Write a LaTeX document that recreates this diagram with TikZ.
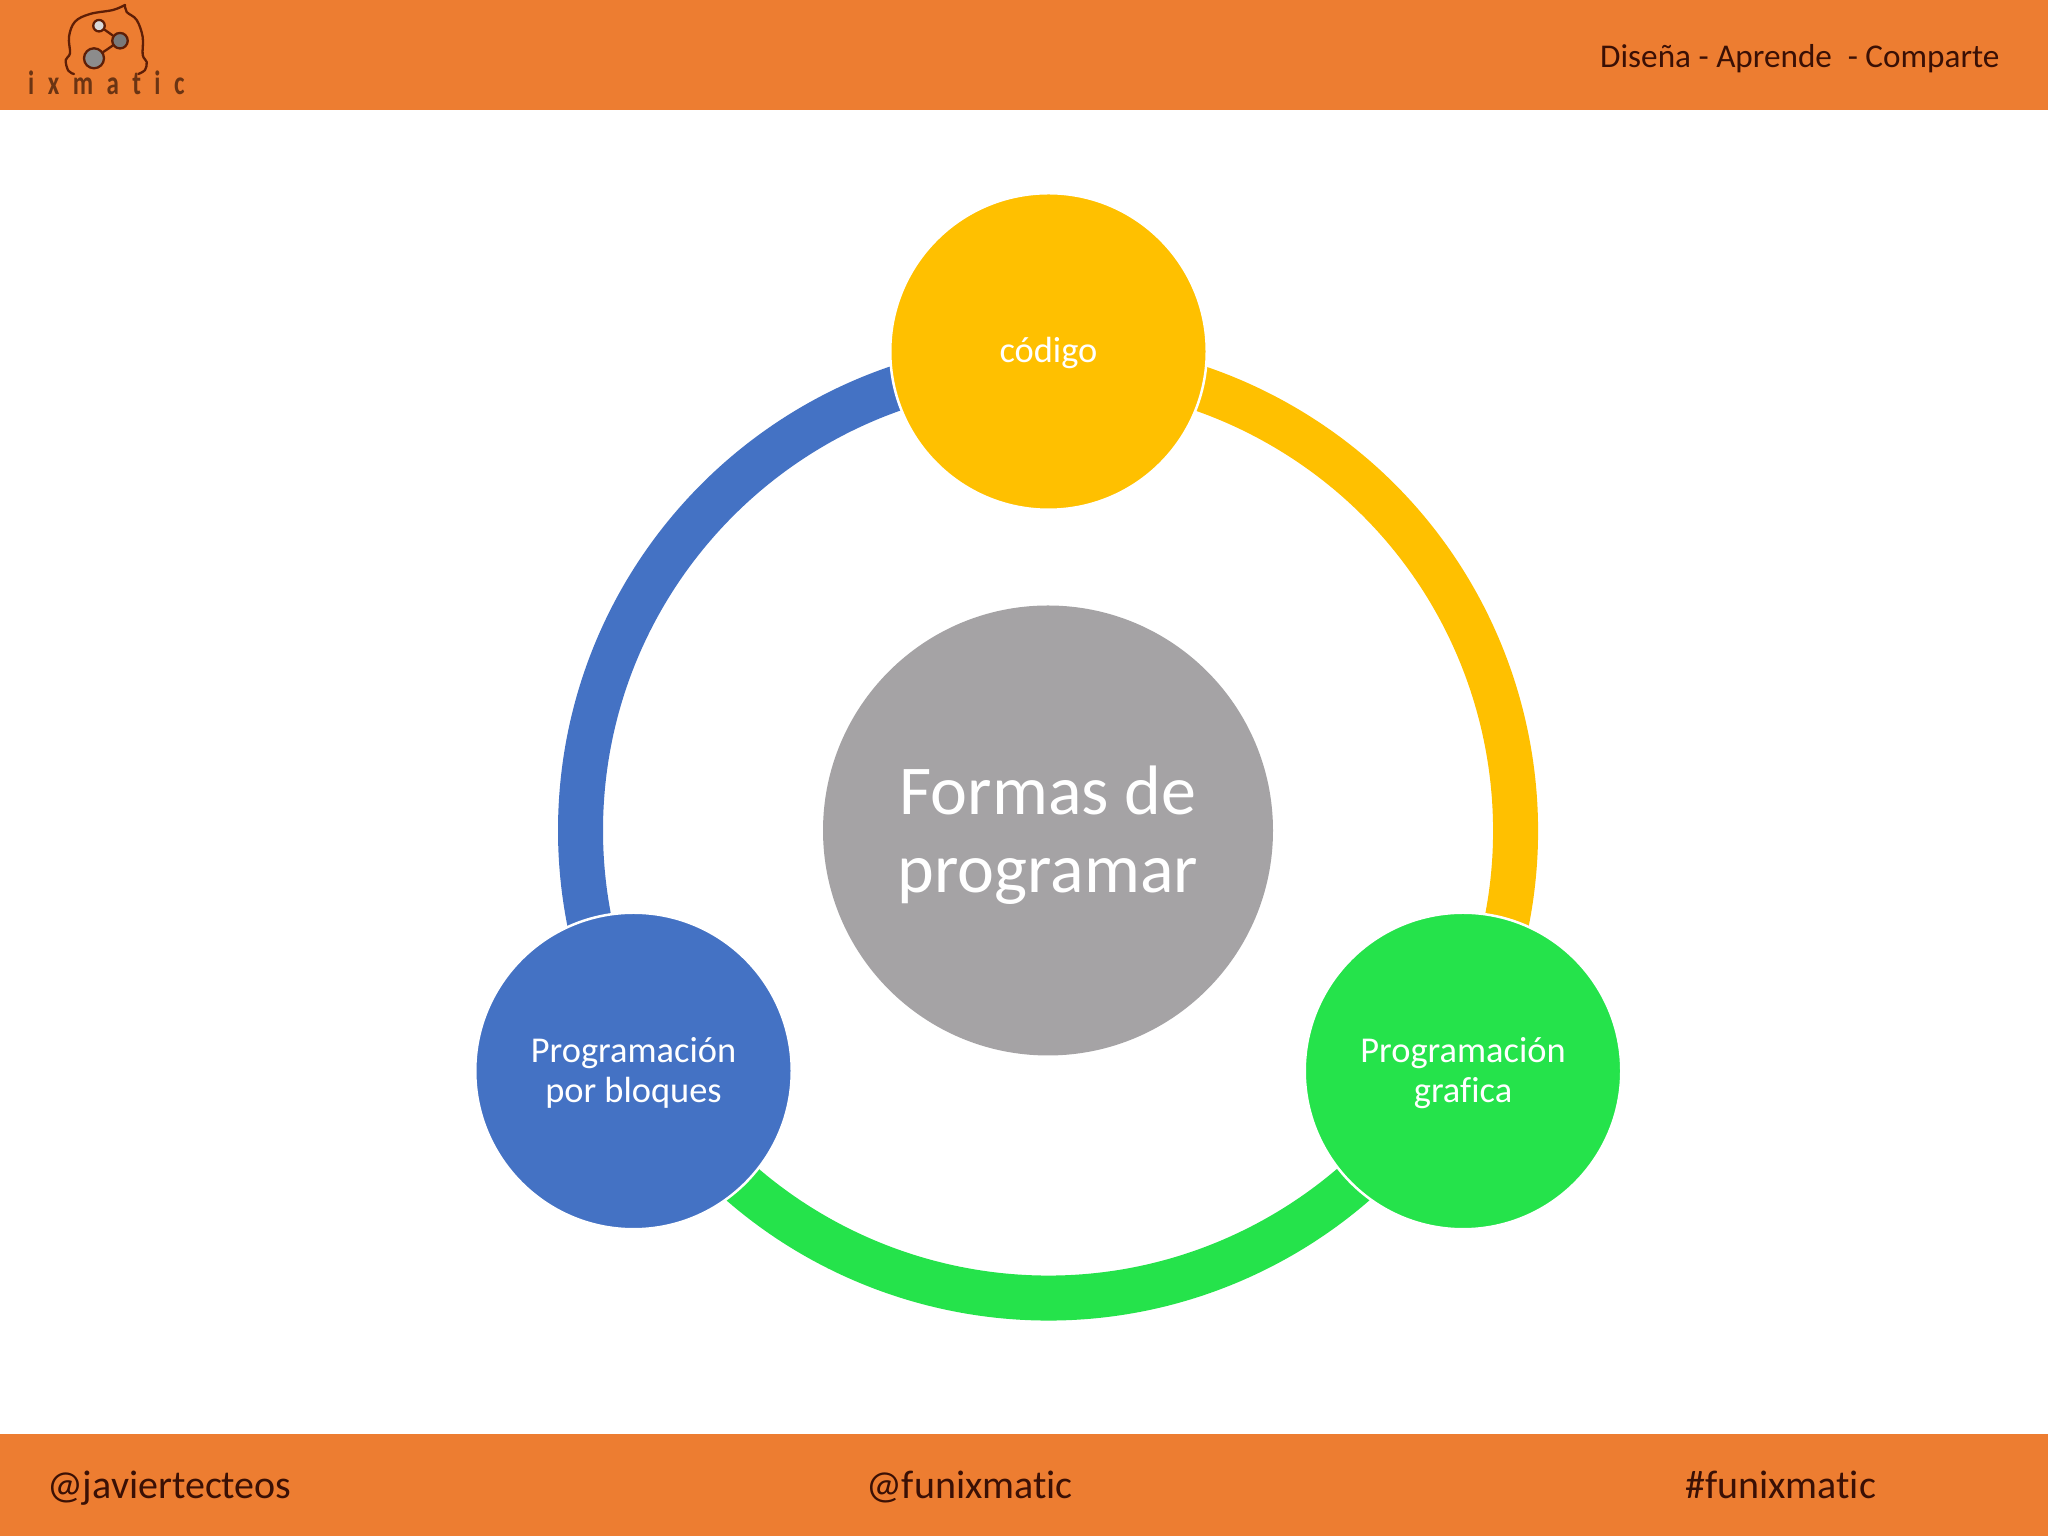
\documentclass[tikz,border=0pt]{standalone}
\usepackage{fontspec}
\setmainfont{Carlito}[Ligatures=NoCommon]
\definecolor{bar}{HTML}{ED7D31}
\definecolor{barink}{HTML}{3A1005}
\definecolor{logoink}{HTML}{5E1E06}
\definecolor{wordink}{HTML}{6B3413}
\definecolor{cyellow}{HTML}{FFC000}
\definecolor{cblue}{HTML}{4472C4}
\definecolor{cgreen}{HTML}{25E34B}
\definecolor{cgrey}{HTML}{A5A3A5}
\tikzset{
  x=1pt,y=1pt,
  band/.style={fill=bar,draw=none},
  headtext/.style={text=barink,anchor=base west,inner sep=0pt,font=\fontsize{33.2}{36}\selectfont},
  foottext/.style={text=barink,anchor=base west,inner sep=0pt,font=\fontsize{40}{40}\selectfont},
  petal/.style={circle,draw=white,line width=2.5pt,inner sep=0pt,minimum size=316.5pt,text=white,align=center,font=\fontsize{36.4}{40}\selectfont},
  hubnode/.style={circle,fill=cgrey,inner sep=0pt,minimum size=450pt,text=white,align=center,font=\fontsize{70}{78}\selectfont},
  ringarc/.style={line width=45pt,line cap=butt},
  logoline/.style={draw=logoink,line width=2.3pt,line cap=round,line join=round},
  logodot/.style={circle,draw=logoink,line width=2.3pt,inner sep=0pt}
}
\begin{document}
\begin{tikzpicture}
\useasboundingbox (0,0) rectangle (2048,1536);
\fill[white] (0,0) rectangle (2048,1536);
\path[band] (0,1425.5) rectangle (2048,1536);
\path[band] (0,0) rectangle (2048,102);
% hub
\node[hubnode] (hub) at (1048,705.5) {\rule{0pt}{59pt}Formas de\\programar};
% ring
\draw[ringarc,cblue] (hub.center) ++(90:467.5) arc[start angle=90,end angle=210,radius=467.5];
\draw[ringarc,cgreen] (hub.center) ++(210:467.5) arc[start angle=210,end angle=330,radius=467.5];
\draw[ringarc,cyellow] (hub.center) ++(330:467.5) arc[start angle=330,end angle=450,radius=467.5];
% satellites
\node[petal,fill=cyellow] (codigo) at (1048.5,1184.5) {\rule{0pt}{29pt}código};
\node[petal,fill=cblue] (bloques) at (633.5,465) {\rule{0pt}{29pt}Programación\\por bloques};
\node[petal,fill=cgreen] (grafica) at (1463,465) {\rule{0pt}{29pt}Programación\\grafica};
% header and footer text
\node[headtext] (lema) at (1600,1468.5) {Diseña - Aprende\hspace{0.25em} - Comparte};
\node[foottext] (jav) at (47,37) {@javiertecteos};
\node[foottext] (fun) at (866,37) {@funixmatic};
\node[foottext] (has) at (1685,37) {\#funixmatic};
% logo
\draw[logoline] plot[smooth,tension=0.6] coordinates {(74,1462) (68.3,1465.3) (65.7,1476) (70,1482.7) (69,1499.3) (75,1514.3) (90,1522) (113,1526) (125,1531)};
\draw[logoline] plot[smooth,tension=0.6] coordinates {(125,1531) (126.7,1524) (136.7,1516) (142.7,1499) (142.7,1481) (146.7,1474) (145,1466) (138.3,1462)};
\node[logodot,fill=gray!30,minimum size=11.5pt] (d1) at (99,1510.3) {};
\node[logodot,fill=gray!95!black,minimum size=15.5pt] (d2) at (120,1495.3) {};
\node[logodot,fill=gray!90,minimum size=20pt] (d3) at (94,1477.7) {};
\draw[logoline] (d1) -- (d2);
\draw[logoline] (d2) -- (d3);
\node[anchor=base west,inner sep=0pt,text=wordink,font=\fontsize{25}{25}\selectfont\bfseries\addfontfeature{LetterSpace=54},yscale=1.35,transform shape] (wordmark) at (28,1441) {ixmatic};
\end{tikzpicture}
\end{document}
